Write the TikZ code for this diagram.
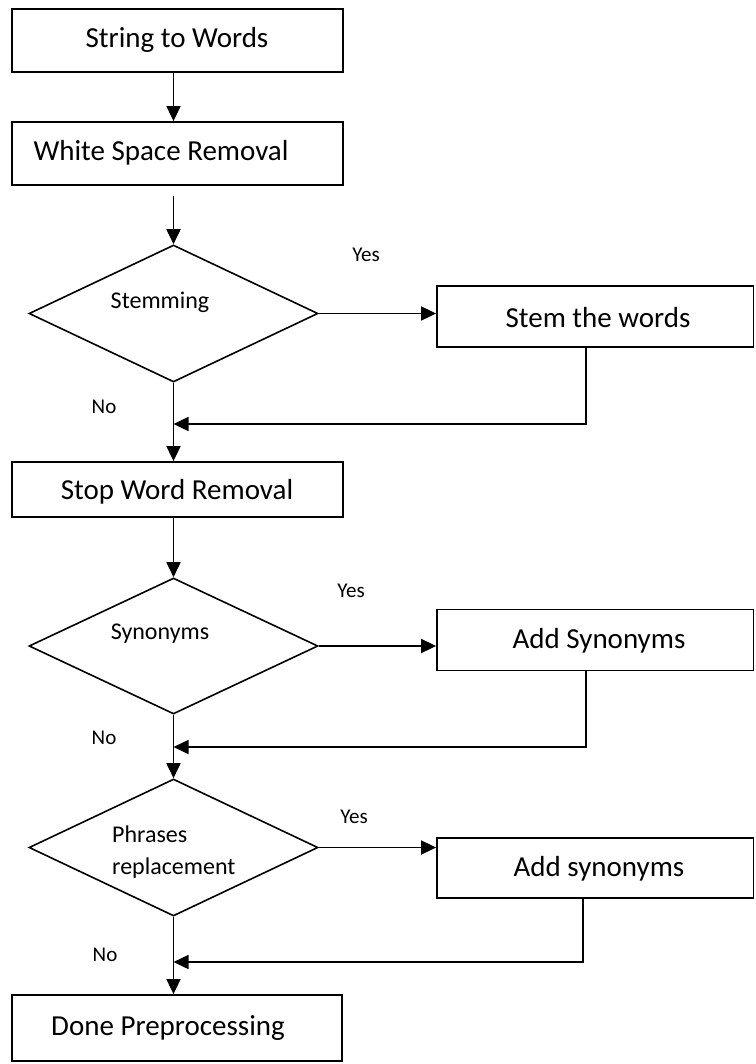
\documentclass[tikz,border=0pt]{standalone}
\usepackage{fontspec}
\setmainfont{Carlito}
\usetikzlibrary{arrows.meta,shapes.geometric}

\tikzset{
  box/.style={draw, line width=1.8pt, rectangle, inner sep=0pt},
  decision/.style={draw, line width=1.6pt, diamond, inner sep=0pt,
    minimum width=289pt},
  bigtext/.style={font=\fontsize{29}{35}\selectfont, inner sep=0pt},
  smalltext/.style={font=\fontsize{24}{32}\selectfont, inner sep=0pt},
  answer/.style={font=\fontsize{21}{25}\selectfont, inner sep=0pt},
  arr/.style={line width=1.8pt, -{Triangle[length=15pt,width=14pt]}},
  back/.style={line width=1.4pt, -{Triangle[length=15pt,width=14pt]}},
}

\begin{document}
\begin{tikzpicture}[x=1pt,y=-1pt]
  \useasboundingbox (0,0) rectangle (755,1064);

  % main column
  \node[box, minimum width=331pt, minimum height=63pt] (b1) at (177.5,40.5) {};
  \node[bigtext] (b1t) at (177,40) {String to Words};
  \node[box, minimum width=331pt, minimum height=63pt] (b2) at (177.5,153.5) {};
  \node[bigtext] (b2t) at (161,153) {White Space Removal};
  \node[decision, minimum height=137pt] (d1) at (173.5,313.5) {};
  \node[smalltext] (d1t) at (160,302) {Stemming};
  \node[box, minimum width=331pt, minimum height=55pt] (b3) at (177.5,489.5) {};
  \node[bigtext] (b3t) at (177,492) {Stop Word Removal};
  \node[decision, minimum height=136pt] (d2) at (173.5,646) {};
  \node[smalltext] (d2t) at (160,634) {Synonyms};
  \node[decision, minimum height=137pt] (d3) at (173.5,847.5) {};
  \node[smalltext, align=left, anchor=west] (d3t) at (112,852) {Phrases\\replacement};
  \node[box, minimum width=330pt, minimum height=66pt] (b4) at (177,1028) {};
  \node[bigtext] (b4t) at (168,1028) {Done Preprocessing};

  % side column
  \node[box, minimum width=316.5pt, minimum height=61pt] (r1) at (595.25,316.5) {};
  \node[bigtext] (r1t) at (598,318) {Stem the words};
  \node[box, minimum width=316.5pt, minimum height=61pt] (r2) at (595.25,640) {};
  \node[bigtext] (r2t) at (599,641) {Add Synonyms};
  \node[box, minimum width=316.5pt, minimum height=60pt] (r3) at (595.25,868) {};
  \node[bigtext] (r3t) at (599,869) {Add synonyms};

  % labels
  \node[answer] (y1) at (366,255) {Yes};
  \node[answer] (y2) at (351,591) {Yes};
  \node[answer] (y3) at (354,817) {Yes};
  \node[answer] (n1) at (104,407) {No};
  \node[answer] (n2) at (104,738) {No};
  \node[answer] (n3) at (105,955) {No};

  % junctions on the main column
  \coordinate (s2) at (173.5,196);
  \coordinate (j1) at (173.5,424);
  \coordinate (j2) at (173.5,747);
  \coordinate (j3) at (173.5,962);

  % main flow
  \draw[arr] (b1.south -| d1.north) -- (b2.north -| d1.north);
  \draw[arr] (s2) -- (d1.north);
  \draw[arr] (d1.south) -- (b3.north -| d1.south);
  \draw[arr] (b3.south -| d2.north) -- (d2.north);
  \draw[arr] (d2.south) -- (d3.north);
  \draw[arr] (d3.south) -- (b4.north -| d3.south);

  % yes branches
  \draw[arr] (d1.east) -- (d1.east -| r1.west);
  \draw[arr] (d2.east) -- (d2.east -| r2.west);
  \draw[arr] (d3.east) -- (d3.east -| r3.west);

  % returns
  \draw[back] ([xshift=-9.25pt]r1.south) |- (j1);
  \draw[back] ([xshift=-9.25pt]r2.south) |- (j2);
  \draw[back] ([xshift=-12.25pt]r3.south) |- (j3);
\end{tikzpicture}
\end{document}
